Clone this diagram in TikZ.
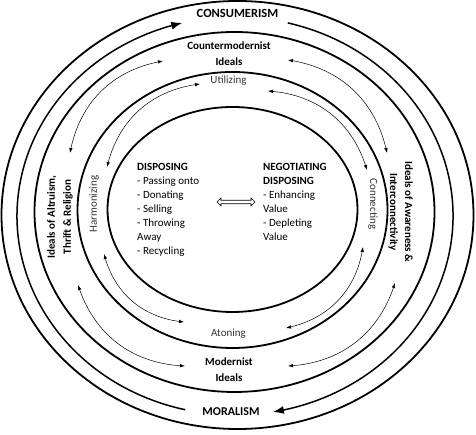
\documentclass[tikz,border=0pt]{standalone}
\usepackage{fontspec}
\setmainfont{Carlito}
\usetikzlibrary{arrows.meta,shapes.arrows,calc,bending}

\tikzset{
  ring/.style={line width=1.8pt},
  flow/.style={line width=1.5pt, -{Latex[length=11pt,width=8pt]}},
  link/.style={line width=0.5pt, {Latex[length=5pt,width=3.5pt]}-{Latex[length=5pt,width=3.5pt]}},
  ism/.style={font=\bfseries\fontsize{12.5}{14}\selectfont, inner sep=0pt, anchor=base},
  ideal/.style={font=\bfseries\fontsize{11}{16}\selectfont, align=center, inner sep=0pt},
  act/.style={font=\fontsize{11}{13}\selectfont, text=black!80, inner sep=0pt},
  item/.style={font=\fontsize{11}{14}\selectfont, align=left, anchor=north west, inner sep=0pt},
}

\begin{document}
\begin{tikzpicture}[x=1pt,y=1pt]
    \useasboundingbox (0,0) rectangle (476,435);
    % Rings
    \draw[ring] (237.5,220) ellipse [x radius=236pt, y radius=214pt];
    \draw[ring] (234.5,223) ellipse [x radius=200pt, y radius=180pt];
    \draw[ring] (232.5,225) ellipse [x radius=155pt, y radius=138pt];
    \draw[ring] (232.5,225.5) ellipse [x radius=125pt, y radius=102.5pt];
    % Consumerism / Moralism
    \node (cons) at (237.5,417) [ism] {CONSUMERISM};
    \node (mor) at (231,19) [ism, font=\bfseries\fontsize{12}{14}\selectfont] {MORALISM};
    \coordinate (hub) at (235,219);
    \draw[flow] ($(hub)+(256.8:218pt and 199pt)$) arc [start angle=256.8, end angle=104, x radius=218pt, y radius=199pt];
    \draw[flow] ($(hub)+(76:218pt and 199pt)$) arc [start angle=76, end angle=-80, x radius=218pt, y radius=199pt];
    % Ideals
    \node (cmod) at (229,381) [ideal] {Countermodernist\\Ideals};
    \node (mod) at (229,65) [ideal] {Modernist\\Ideals};
    \node (altr) at (60,218) [ideal, rotate=90] {Ideals of Altruism,\\Thrift \& Religion};
    \node (awar) at (400.5,223) [ideal, rotate=-90, font=\bfseries\fontsize{11}{15}\selectfont] {Ideals of Awareness \&\\Interconnectivity};
    % Practices
    \node (util) at (228.5,351.5) [act, anchor=base] {Utilizing};
    \node (aton) at (228.5,98.5) [act, anchor=base] {Atoning};
    \node (harm) at (94,231) [act, rotate=90] {Harmonizing};
    \node (conn) at (373,231) [act, rotate=-90] {Connecting};
    % Disposing
    \node (disp) at (137,272) [item] {\textbf{DISPOSING}\\- Passing onto\\- Donating\\- Selling\\- Throwing\\Away\\- Recycling};
    \node (nego) at (263,272) [item] {\textbf{NEGOTIATING}\\\textbf{DISPOSING}\\- Enhancing\\Value\\- Depleting\\Value};
    \node (swap) at (236,233) [double arrow, draw, line width=0.6pt, minimum height=38pt, minimum width=8pt, double arrow head extend=2pt, inner sep=1.2pt] {};
    % Outer links
    \coordinate (a1) at (163,374);
    \coordinate (a2) at (70,282);
    \coordinate (a3) at (288,375);
    \coordinate (a4) at (387,282);
    \coordinate (a5) at (78,150);
    \coordinate (a6) at (185,69);
    \coordinate (a7) at (395,152);
    \coordinate (a8) at (288,69);
    \draw[link] (a2) to[bend left=35] (a1);
    \draw[link] (a3) to[bend left=35] (a4);
    \draw[link] (a5) to[bend right=35] (a6);
    \draw[link] (a7) to[bend left=35] (a8);
    % Inner links
    \coordinate (b1) at (200,351);
    \coordinate (b2) at (107,268);
    \coordinate (b3) at (268,344);
    \coordinate (b4) at (367,265);
    \coordinate (b5) at (104,181);
    \coordinate (b6) at (184,113);
    \coordinate (b7) at (363,188);
    \coordinate (b8) at (286,107);
    \draw[link] (b2) to[bend left=35] (b1);
    \draw[link] (b3) to[bend left=35] (b4);
    \draw[link] (b5) to[bend right=35] (b6);
    \draw[link] (b7) to[bend left=35] (b8);
\end{tikzpicture}
\end{document}
